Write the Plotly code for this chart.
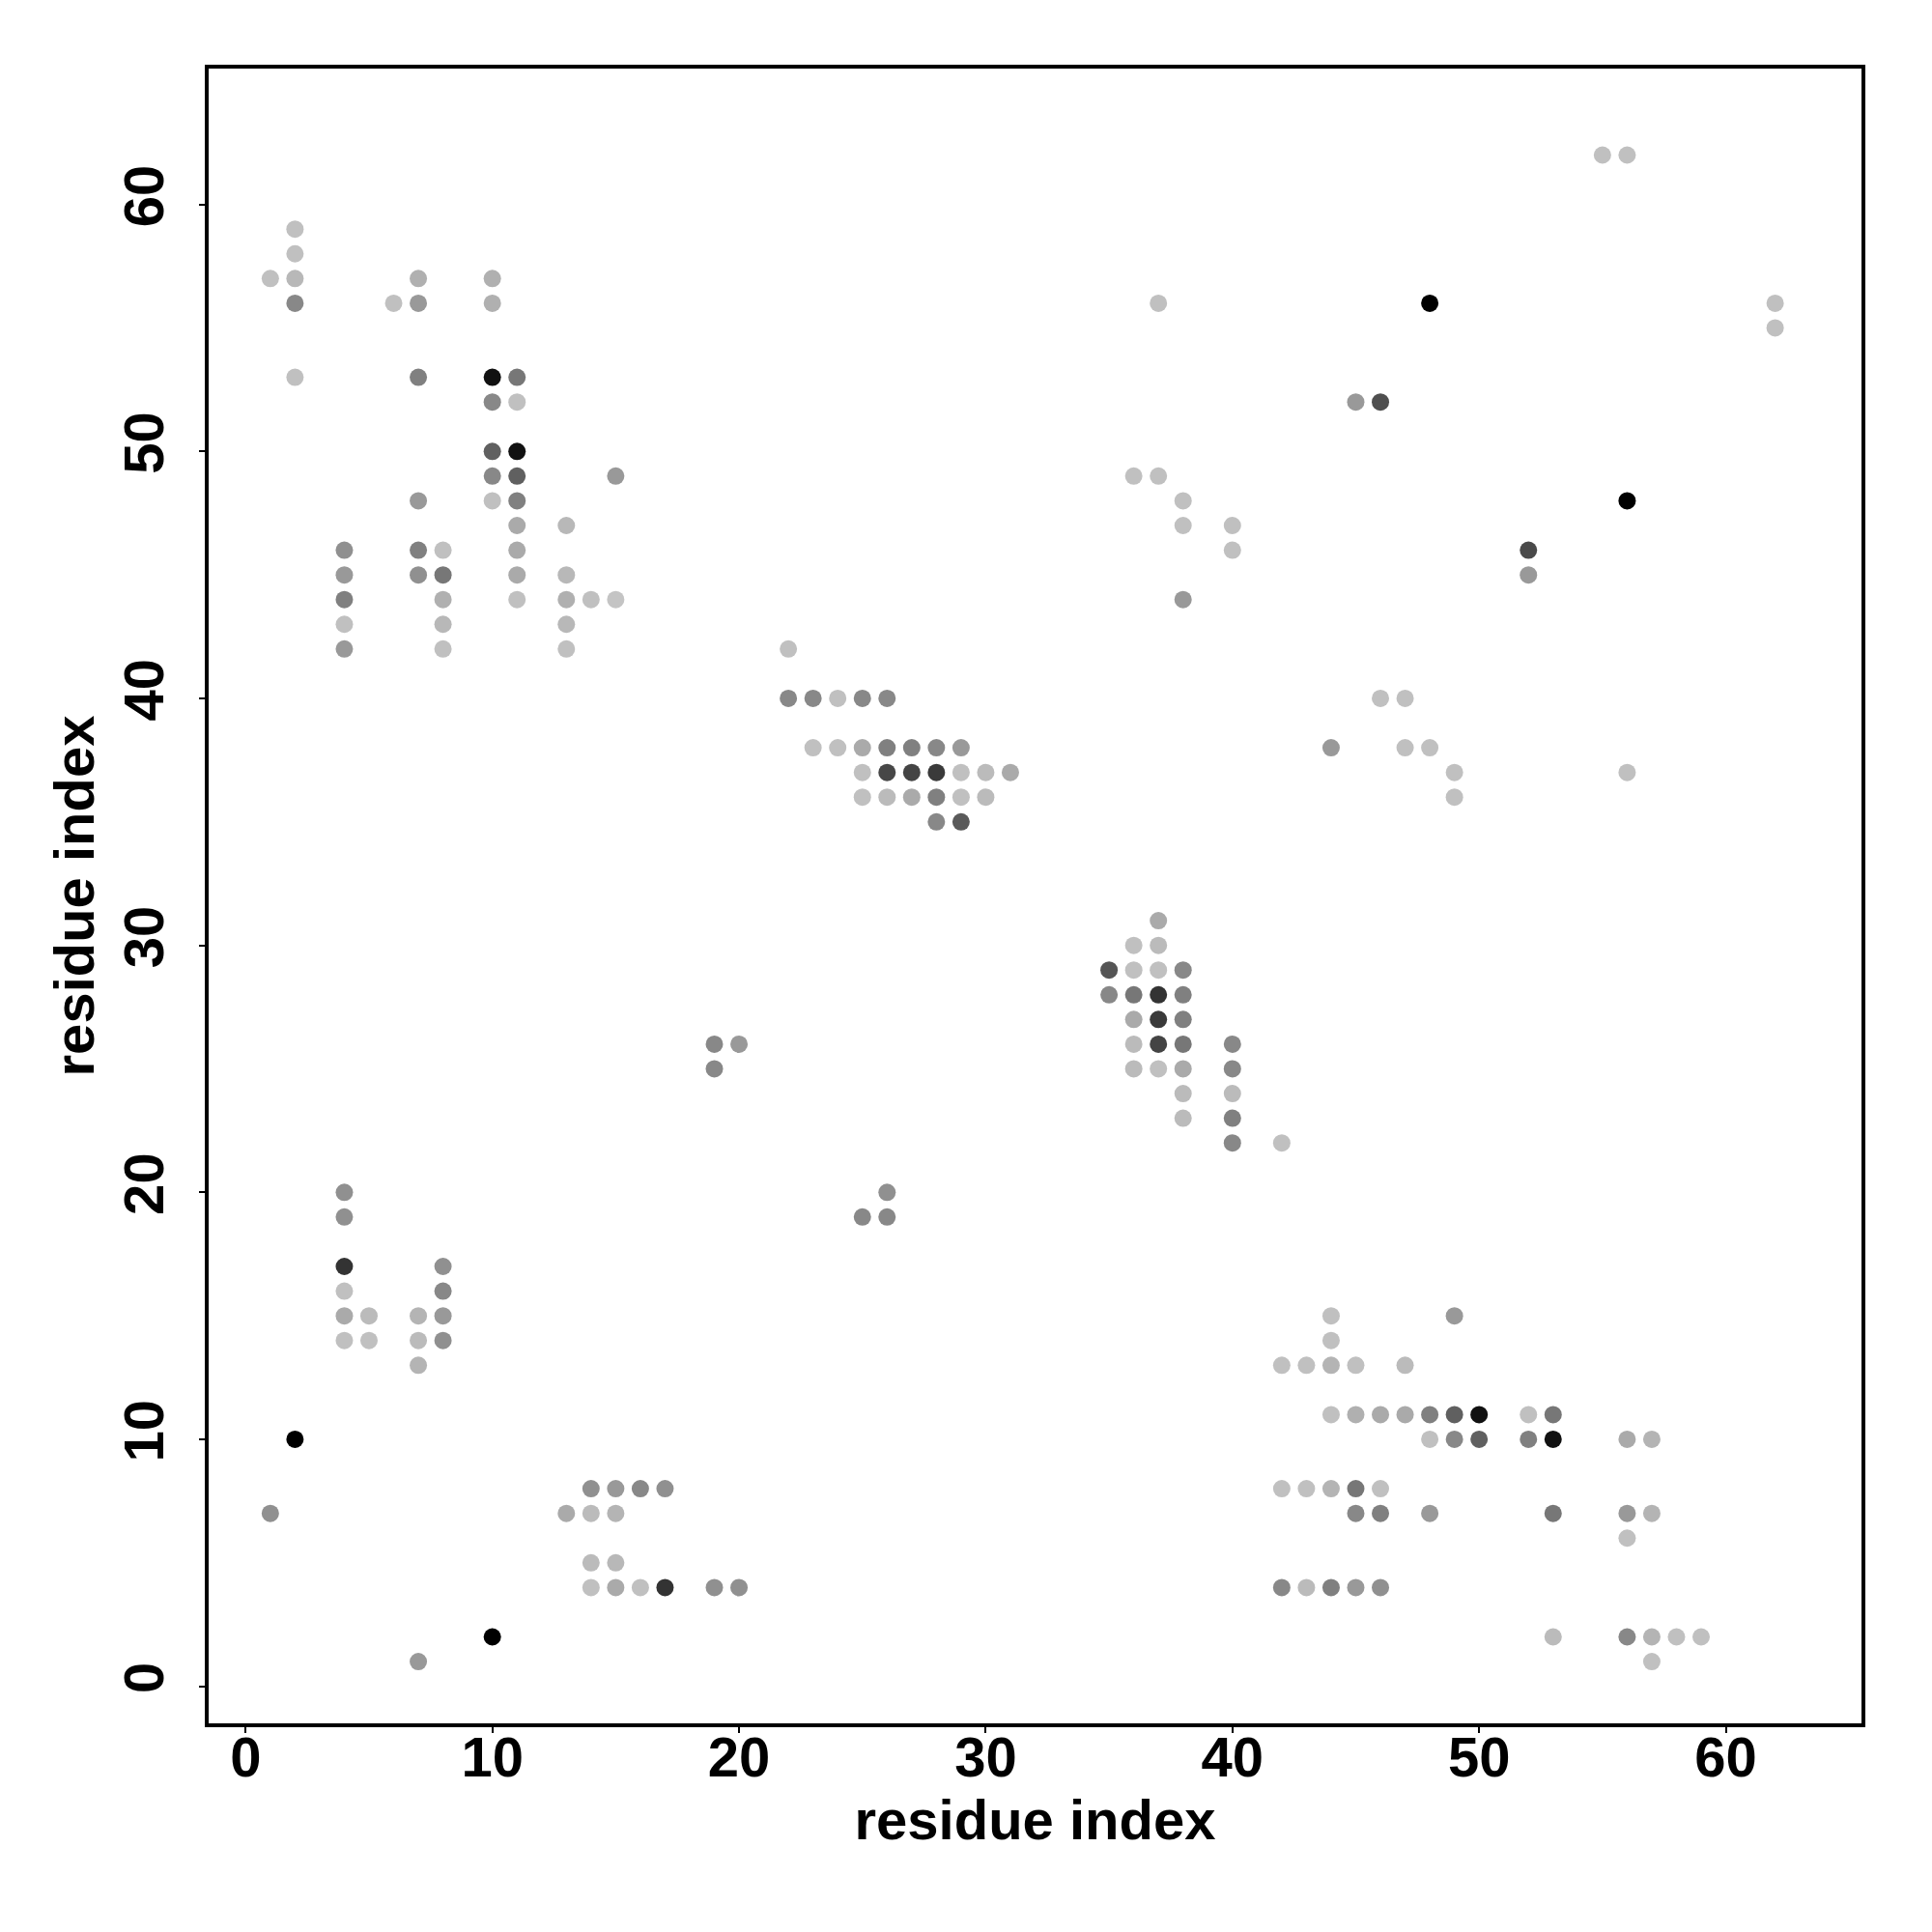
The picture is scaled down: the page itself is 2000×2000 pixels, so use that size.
import plotly.graph_objects as go

# contact points: residue i (x), residue j (y), gray level (0 = black, 192 = light)
res_i = [
    1, 2, 2, 2, 2, 2, 6, 7, 7, 7, 10, 10,
    10, 11, 10, 11, 10, 11, 10, 11, 15, 7, 10, 11,
    11, 13, 4, 7, 8, 11, 4, 7, 8, 11, 13,
    4, 8, 11, 13, 14, 15, 4, 8, 13, 4, 8, 13,
    22, 22, 23, 24, 25, 26,
    23, 24, 25, 26, 27, 28, 29,
    25, 26, 27, 28, 29, 30, 31,
    25, 26, 27, 28, 29, 30,
    28, 29,
    37, 36, 37, 35, 36, 37, 38, 35, 36, 37, 38,
    36, 37, 38, 36, 37, 38, 40, 36, 37, 38, 40,
    38, 40, 38, 40, 40, 42,
    37, 48, 45, 46, 36, 37, 38, 38, 40, 40, 38,
    52, 52, 46, 47, 44, 47, 48, 49, 49,
    55, 56, 62, 62, 56, 56,
    19, 20, 19, 26, 25, 26,
    4, 4, 4, 4, 8, 8, 4, 5, 7, 8, 4, 5, 7, 8, 7,
    2, 14, 15, 16, 17, 1, 13, 14, 15, 14, 15,
    14, 15, 16, 17, 19, 20, 10, 7,
    44, 49, 44, 42, 43, 44, 45, 47,
    44, 45, 46, 47, 48, 49, 50, 52, 53,
    48, 49, 50, 52, 53, 56, 57,
    42, 43, 44, 45, 46,
    45, 46, 48, 53, 56, 57, 56,
    42, 43, 44, 45, 46,
    53, 56, 57, 58, 59, 57,
]
res_j = [
    57, 59, 58, 57, 56, 53, 56, 57, 56, 53, 57, 56,
    53, 53, 52, 52, 50, 50, 49, 49, 49, 48, 48, 48,
    47, 47, 46, 46, 46, 46, 45, 45, 45, 45, 45,
    44, 44, 44, 44, 44, 44, 43, 43, 43, 42, 42, 42,
    42, 40, 40, 40, 40, 40,
    38, 38, 38, 38, 38, 38, 38,
    37, 37, 37, 37, 37, 37, 37,
    36, 36, 36, 36, 36, 36,
    35, 35,
    31, 30, 30, 29, 29, 29, 29, 28, 28, 28, 28,
    27, 27, 27, 26, 26, 26, 26, 25, 25, 25, 25,
    24, 24, 23, 23, 22, 22,
    56, 56, 52, 52, 49, 49, 48, 47, 47, 46, 44,
    46, 45, 40, 40, 38, 38, 38, 37, 36,
    62, 62, 56, 55, 48, 37,
    26, 26, 25, 20, 19, 19,
    20, 19, 17, 16, 17, 16, 15, 15, 15, 15, 14, 14, 14, 14, 13,
    10, 8, 8, 8, 8, 7, 7, 7, 7, 5, 5,
    4, 4, 4, 4, 4, 4, 2, 1,
    15, 15, 14, 13, 13, 13, 13, 13,
    11, 11, 11, 11, 11, 11, 11, 11, 11,
    10, 10, 10, 10, 10, 10, 10,
    8, 8, 8, 8, 8,
    7, 7, 7, 7, 7, 7, 6,
    4, 4, 4, 4, 4,
    2, 2, 2, 2, 2, 1,
]
gray_level = [
    192, 192, 192, 184, 136, 192, 192, 176, 153, 128, 176, 176,
    17, 119, 136, 192, 96, 17, 136, 96, 153, 153, 192, 128,
    170, 184, 144, 128, 192, 170, 153, 144, 119, 170, 184,
    128, 176, 192, 176, 192, 196, 192, 184, 184, 153, 192, 192,
    192, 136, 136, 192, 136, 136,
    192, 192, 170, 128, 128, 136, 153,
    192, 71, 68, 58, 192, 187, 170,
    192, 187, 170, 128, 192, 187,
    136, 90,
    170, 192, 187, 85, 192, 192, 136, 136, 119, 51, 128,
    170, 58, 128, 187, 68, 119, 136, 187, 192, 170, 136,
    187, 187, 187, 128, 136, 192,
    192, 0, 153, 79, 192, 192, 192, 192, 192, 192, 153,
    74, 153, 192, 192, 153, 192, 192, 192, 192,
    192, 192, 192, 192, 0, 192,
    136, 153, 136, 144, 136, 136,
    144, 144, 51, 192, 144, 136, 170, 187, 180, 153, 192, 192, 187, 144, 180,
    0, 144, 153, 136, 144, 144, 170, 187, 180, 187, 184,
    192, 170, 192, 51, 144, 144, 0, 153,
    192, 153, 192, 192, 192, 180, 192, 187,
    192, 176, 170, 170, 128, 96, 17, 192, 119,
    192, 136, 96, 128, 17, 170, 180,
    192, 192, 180, 119, 192,
    136, 128, 153, 119, 153, 180, 192,
    136, 187, 128, 153, 144,
    187, 136, 180, 192, 192, 192,
]

tick_values = [0, 10, 20, 30, 40, 50, 60]
axis_title = "residue index"

colors = [f"rgb({g},{g},{g})" for g in gray_level]

fig = go.Figure(
    go.Scatter(
        x=res_i,
        y=res_j,
        mode="markers",
        marker=dict(size=18, color=colors, line=dict(width=0)),
        hoverinfo="x+y",
    )
)

font_main = dict(family="Liberation Sans, Arial, sans-serif", size=58, color="black", weight="bold")

axis_common = dict(
    range=[-1.5, 65.5],
    tickvals=tick_values,
    ticks="outside",
    ticklen=6,
    tickwidth=2,
    tickcolor="black",
    showline=True,
    linewidth=4,
    linecolor="black",
    mirror=True,
    showgrid=False,
    zeroline=False,
    tickfont=font_main,
    automargin=False,
)

fig.update_layout(
    width=2000,
    height=2000,
    margin=dict(l=216, r=73, t=71, b=216),
    paper_bgcolor="white",
    plot_bgcolor="white",
    showlegend=False,
    xaxis=dict(**axis_common, ticklabelstandoff=-25,
               title=dict(text=axis_title, font=font_main, standoff=13)),
    yaxis=dict(**axis_common, tickangle=-90, ticklabelstandoff=14,
               title=dict(text=axis_title, font=font_main, standoff=0)),
)

fig.write_html("out.html", config={"displayModeBar": False},
               post_script="document.body.style.margin='0';")
